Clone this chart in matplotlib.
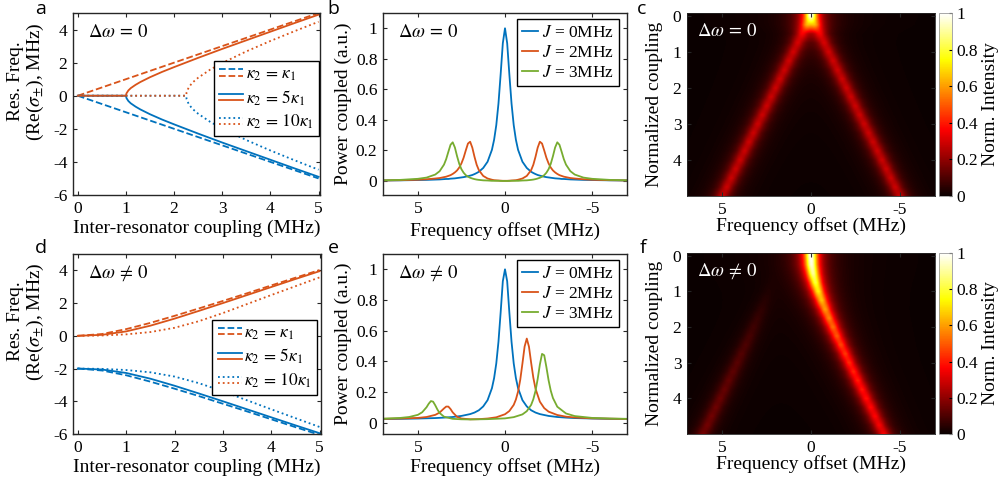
import numpy as np
import matplotlib
matplotlib.use("Agg")
import matplotlib.pyplot as plt
from matplotlib.legend_handler import HandlerBase
from matplotlib.lines import Line2D

plt.rcParams["font.family"] = ["Liberation Serif", "DejaVu Serif"]
plt.rcParams["mathtext.fontset"] = "stix"
plt.rcParams["axes.unicode_minus"] = False

BLUE = "#0072BD"
ORANGE = "#D95319"
GREEN = "#77AC30"
AXCOL = "#262626"
TICK_FS = 12.5
LABEL_FS = 14

# ---------------- panel a : resonance frequency, no detuning ----------------
coupling_dash_a = [0, 5]
upper_dash_a = [0, 5.0]
lower_dash_a = [0, -5.0]
coupling_solid_a = [0, 1, 1.01, 1.05, 1.1, 1.2, 1.3, 1.5, 1.75, 2, 2.5, 3, 3.5, 4, 4.5, 5]
upper_solid_a = [0, 0, 0.14, 0.32, 0.46, 0.66, 0.83, 1.12, 1.44, 1.73, 2.29, 2.83, 3.35, 3.87, 4.39, 4.90]
lower_solid_a = [0, 0, -0.14, -0.32, -0.46, -0.66, -0.83, -1.12, -1.44, -1.73, -2.29, -2.83, -3.35, -3.87, -4.39, -4.90]
coupling_dot_a = [0, 2.25, 2.26, 2.3, 2.35, 2.4, 2.5, 2.75, 3, 3.5, 4, 4.5, 5]
upper_dot_a = [0, 0, 0.21, 0.48, 0.68, 0.84, 1.09, 1.58, 1.98, 2.68, 3.31, 3.90, 4.47]
lower_dot_a = [0, 0, -0.21, -0.48, -0.68, -0.84, -1.09, -1.58, -1.98, -2.68, -3.31, -3.90, -4.47]

# ---------------- panel d : resonance frequency, with detuning ----------------
coupling_d = [0, 0.5, 1, 1.5, 2, 2.5, 3, 3.5, 4, 4.5, 5]
upper_dash_d = [0, 0.11, 0.41, 0.79, 1.22, 1.67, 2.13, 2.60, 3.08, 3.55, 4.02]
lower_dash_d = [-2, -2.12, -2.41, -2.80, -3.23, -3.68, -4.15, -4.62, -5.10, -5.58, -6.05]
upper_solid_d = [0, 0.06, 0.27, 0.62, 1.05, 1.52, 2.00, 2.49, 2.98, 3.47, 3.95]
lower_solid_d = [-2, -2.06, -2.27, -2.62, -3.05, -3.52, -4.00, -4.49, -4.98, -5.47, -5.95]
upper_dot_d = [0, 0.02, 0.09, 0.23, 0.49, 0.89, 1.39, 1.94, 2.49, 3.03, 3.57]
lower_dot_d = [-2, -2.02, -2.09, -2.23, -2.49, -2.89, -3.39, -3.94, -4.49, -5.03, -5.57]

kappa_labels = [r"$\kappa_2\,=\,\kappa_1$", r"$\kappa_2\,=\,5\kappa_1$", r"$\kappa_2\,=\,10\kappa_1$"]

# ---------------- panel b : spectra, no detuning (symmetric, half given) ----------------
offset_b_half = [0, 0.125, 0.25, 0.375, 0.5, 0.625, 0.75, 1, 1.25, 1.5, 1.625, 1.75, 1.875, 2,
                 2.125, 2.25, 2.375, 2.5, 2.625, 2.75, 2.875, 3, 3.125, 3.25, 3.375, 3.5, 3.75,
                 4, 4.5, 5, 6, 7]
power_j0_b = [1.0, .902, .698, .507, .366, .270, .204, .126, .085, .060, .052, .045, .039, .035,
              .031, .028, .025, .023, .021, .019, .017, .016, .015, .013, .013, .012, .010,
              .009, .007, .006, .004, .003]
power_j2_b = [.001, .001, .002, .003, .004, .005, .008, .016, .033, .071, .106, .158, .218, .257,
              .245, .200, .152, .115, .088, .069, .056, .046, .038, .033, .028, .025, .019,
              .016, .011, .008, .005, .003]
power_j3_b = [0, 0, 0, .001, .001, .001, .001, .003, .004, .007, .009, .012, .016, .021,
              .028, .038, .054, .077, .112, .162, .219, .253, .237, .191, .143, .107, .064,
              .042, .022, .014, .007, .004]

# ---------------- panel e : spectra, with detuning ----------------
offset_j0_e = [7, 6, 5, 4, 3.5, 3, 2.5, 2, 1.75, 1.5, 1.25, 1, 0.75, 0.625, 0.5, 0.375, 0.25, 0.125,
               0, -0.125, -0.25, -0.375, -0.5, -0.625, -0.75, -1, -1.25, -1.5, -1.75, -2, -2.5,
               -3, -3.5, -4, -5, -6, -7]
power_j0_e = [.023, .024, .026, .029, .032, .036, .043, .055, .065, .080, .105, .146, .224, .290,
              .386, .527, .718, .922, 1.0, .922, .718, .527, .386, .290, .224, .146, .105, .080,
              .065, .055, .043, .036, .032, .029, .026, .024, .023]
offset_j2_e = [7, 6, 5, 4.5, 4, 3.75, 3.5, 3.375, 3.25, 3.125, 3, 2.75, 2.5, 2, 1.5, 1, 0.5, 0,
               -0.25, -0.5, -0.625, -0.75, -0.875, -1, -1.125, -1.25, -1.375, -1.5, -1.625,
               -1.75, -2, -2.25, -2.5, -3, -3.5, -4, -5, -6, -7]
power_j2_e = [.024, .026, .030, .036, .050, .065, .092, .104, .104, .088, .066, .037, .026, .021,
              .022, .026, .034, .054, .075, .115, .150, .202, .279, .385, .496, .548, .495, .390,
              .293, .221, .136, .094, .071, .049, .038, .033, .027, .025, .023]
offset_j3_e = [7, 6, 5.5, 5, 4.75, 4.5, 4.375, 4.25, 4.125, 4, 3.875, 3.75, 3.5, 3, 2.5, 2, 1, 0,
               -0.5, -1, -1.25, -1.5, -1.625, -1.75, -1.875, -2, -2.125, -2.25, -2.375, -2.5,
               -2.625, -2.75, -3, -3.5, -4, -5, -6, -7]
power_j3_e = [.025, .030, .036, .050, .067, .100, .123, .140, .136, .112, .084, .062, .038, .024,
              .021, .020, .022, .027, .035, .053, .074, .115, .152, .206, .284, .378, .448, .439,
              .362, .276, .208, .160, .103, .059, .042, .030, .026, .024]

j_labels = [r"$J$ = 0MHz", r"$J$ = 2MHz", r"$J$ = 3MHz"]

# ---------------- panels c, f : maps, ridge read-outs per coupling row ----------------
coupling_rows = [0, 0.25, 0.5, 0.75, 1, 1.25, 1.5, 1.75, 2, 2.25, 2.5, 2.75, 3, 3.25, 3.5,
                 3.75, 4, 4.25, 4.5, 4.75, 5]
ridge_height_c = [0.50, 0.46, 0.32, 0.29, 0.29, 0.29, 0.29, 0.29, 0.29, 0.29, 0.29, 0.29, 0.29,
                  0.29, 0.29, 0.29, 0.29, 0.29, 0.29, 0.29, 0.29]
bright_pos_f = [0, -0.03, -0.12, -0.25, -0.41, -0.60, -0.80, -1.02, -1.24, -1.46, -1.69, -1.93,
                -2.16, -2.40, -2.64, -2.88, -3.12, -3.37, -3.61, -3.85, -4.10]
bright_height_f = [1.0, 0.97, 0.90, 0.81, 0.73, 0.66, 0.60, 0.56, 0.53, 0.50, 0.47, 0.45, 0.43,
                   0.42, 0.41, 0.40, 0.39, 0.38, 0.37, 0.36, 0.36]
dim_pos_f = [2.0, 2.03, 2.12, 2.25, 2.41, 2.60, 2.80, 3.02, 3.24, 3.46, 3.69, 3.93, 4.16, 4.40,
             4.64, 4.88, 5.12, 5.37, 5.61, 5.85, 6.10]
dim_height_f = [0, 0.001, 0.003, 0.01, 0.02, 0.035, 0.05, 0.063, 0.076, 0.088, 0.099, 0.108,
                0.117, 0.124, 0.131, 0.138, 0.144, 0.149, 0.154, 0.158, 0.162]
line_hwhm = 0.38


class StackedLines(HandlerBase):
    """legend key: the blue and the orange line of one style, one above the other"""
    def create_artists(self, legend, orig_handle, xdescent, ydescent, width, height, fontsize, trans):
        arts = []
        for line, frac in zip(orig_handle, (0.75, 0.25)):
            y = frac * height - ydescent
            ln = Line2D([-xdescent, width - xdescent], [y, y], color=line.get_color(),
                        linestyle=line.get_linestyle(), linewidth=line.get_linewidth())
            ln.set_transform(trans)
            arts.append(ln)
        return arts


W, H = 1004, 483
fig = plt.figure(figsize=(W / 100, H / 100), dpi=100)


def px_axes(left, top, width, height):
    return fig.add_axes([left / W, 1 - (top + height) / H, width / W, height / H])


def style(ax):
    for s in ax.spines.values():
        s.set_color(AXCOL)
        s.set_linewidth(1.0)
    ax.tick_params(direction="in", length=3, top=True, right=True, labelsize=TICK_FS,
                   color=AXCOL, pad=4)


def freq_panel(ax, upper, lower, xs, text):
    style(ax)
    lw = 1.3
    hd = []
    for (xv, up, lo, ls) in zip(xs, upper, lower, ["--", "-", ":"]):
        b, = ax.plot(xv, lo, color=BLUE, ls=ls, lw=lw)
        o, = ax.plot(xv, up, color=ORANGE, ls=ls, lw=lw)
        hd.append((b, o))
    ax.set_xlim(-0.1, 5.03)
    ax.set_ylim(-6, 5)
    ax.set_yticks([-6, -4, -2, 0, 2, 4])
    ax.set_xticks([0, 1, 2, 3, 4, 5])
    ax.set_xlabel("Inter-resonator coupling (MHz)", fontsize=LABEL_FS)
    ax.xaxis.set_label_coords(0.5, -0.135)
    ax.set_ylabel("Res. Freq.\n(Re($\\sigma_{\\pm}$), MHz)", fontsize=LABEL_FS, linespacing=1.05)
    ax.yaxis.set_label_coords(-0.11, 0.625)
    ax.text(0.06, 0.895, text, transform=ax.transAxes, fontsize=13.5, va="center")
    ax.legend(hd, kappa_labels, handler_map={tuple: StackedLines()}, loc="upper right",
              fontsize=12.5, frameon=True, fancybox=False, edgecolor="k", framealpha=1,
              handlelength=1.4, handletextpad=0.15, labelspacing=0.3, borderpad=0.3,
              borderaxespad=0)
    return ax.get_legend()


# ---- a
ax_a = px_axes(73, 13, 247, 182)
leg = freq_panel(ax_a,
                 [upper_dash_a, upper_solid_a, upper_dot_a],
                 [lower_dash_a, lower_solid_a, lower_dot_a],
                 [coupling_dash_a, coupling_solid_a, coupling_dot_a], r"$\Delta\omega\,=\,0$")
leg.set_bbox_to_anchor((0.995, 0.735), transform=ax_a.transAxes)

# ---- d
ax_d = px_axes(73, 254, 248, 180)
leg = freq_panel(ax_d,
                 [upper_dash_d, upper_solid_d, upper_dot_d],
                 [lower_dash_d, lower_solid_d, lower_dot_d],
                 [coupling_d, coupling_d, coupling_d], r"$\Delta\omega\,\neq\,0$")
leg.set_bbox_to_anchor((0.985, 0.633), transform=ax_d.transAxes)


def spec_panel(ax, curves, ylim, text, xlab_y):
    style(ax)
    for (xv, yv), c, lab in zip(curves, [BLUE, ORANGE, GREEN], j_labels):
        ax.plot(xv, yv, color=c, lw=1.3, label=lab)
    ax.set_xlim(7, -7)
    ax.set_ylim(*ylim)
    ax.set_xticks([5, 0, -5])
    ax.set_yticks([0, 0.2, 0.4, 0.6, 0.8, 1])
    ax.set_yticklabels(["0", "0.2", "0.4", "0.6", "0.8", "1"])
    ax.set_xlabel("Frequency offset (MHz)", fontsize=LABEL_FS)
    ax.xaxis.set_label_coords(0.5, xlab_y)
    ax.set_ylabel("Power coupled (a.u.)", fontsize=LABEL_FS)
    ax.yaxis.set_label_coords(-0.125, 0.5)
    ax.text(0.06, 0.895, text, transform=ax.transAxes, fontsize=13.5, va="center")
    ax.legend(loc="upper right", bbox_to_anchor=(0.967, 0.965), fontsize=12.5, frameon=True,
              fancybox=False, edgecolor="k", framealpha=1, handlelength=0.9,
              handletextpad=0.2, labelspacing=0.22, borderpad=0.3, borderaxespad=0)


# ---- b
half = np.array(offset_b_half)
full_x = np.concatenate([-half[:0:-1], half])


def mirror(v):
    v = np.array(v)
    return np.concatenate([v[:0:-1], v])


ax_b = px_axes(383, 13, 244, 182)
spec_panel(ax_b, [(full_x, mirror(power_j0_b)), (full_x, mirror(power_j2_b)),
                  (full_x, mirror(power_j3_b))], (-0.092, 1.1), r"$\Delta\omega\,=\,0$", -0.15)

# ---- e
ax_e = px_axes(383, 254, 244, 180)
spec_panel(ax_e, [(offset_j0_e, power_j0_e), (offset_j2_e, power_j2_e),
                  (offset_j3_e, power_j3_e)], (-0.075, 1.1), r"$\Delta\omega\,\neq\,0$", -0.135)

# ---- maps
freq_grid = np.linspace(-7, 7, 281)


def ridge(center, height):
    return height / (1 + ((freq_grid - center) / line_hwhm) ** 2)


map_c = np.array([ridge(j, h) + ridge(-j, h) for j, h in zip(coupling_rows, ridge_height_c)])
map_f = np.array([ridge(bp, bh) + ridge(dp, dh) for bp, bh, dp, dh in
                  zip(bright_pos_f, bright_height_f, dim_pos_f, dim_height_f)])


def map_panel(ax, cax, img, text, xlab_y):
    step = coupling_rows[1] - coupling_rows[0]
    df = freq_grid[1] - freq_grid[0]
    im = ax.imshow(img, cmap="hot", vmin=0, vmax=1, aspect="auto", interpolation="bilinear",
                   interpolation_stage="data",
                   extent=[freq_grid[0] - df / 2, freq_grid[-1] + df / 2,
                           coupling_rows[-1] + step / 2, coupling_rows[0] - step / 2])
    ax.set_xlim(7, -7)
    ax.set_ylim(5.0, -0.08)
    ax.set_xticks([5, 0, -5])
    ax.set_yticks([0, 1, 2, 3, 4])
    for s in ax.spines.values():
        s.set_linewidth(0.6)
        s.set_color(AXCOL)
    ax.tick_params(direction="in", length=3, labelsize=TICK_FS, color=AXCOL, pad=4,
                   top=True, right=True)
    ax.set_xlabel("Frequency offset (MHz)", fontsize=LABEL_FS)
    ax.xaxis.set_label_coords(0.5, xlab_y)
    ax.set_ylabel("Normalized coupling", fontsize=LABEL_FS)
    ax.yaxis.set_label_coords(-0.097, 0.5)
    ax.text(0.04, 0.9, text, transform=ax.transAxes, fontsize=13.5, va="center", color="white")
    cb = fig.colorbar(im, cax=cax, ticks=[0, 0.2, 0.4, 0.6, 0.8, 1])
    cb.ax.set_yticklabels(["0", "0.2", "0.4", "0.6", "0.8", "1"])
    cb.ax.tick_params(labelsize=TICK_FS, length=2, pad=3, direction="in")
    cb.outline.set_edgecolor("#999999")
    cb.outline.set_linewidth(0.6)
    cb.set_label("Norm. Intensity", fontsize=LABEL_FS, labelpad=3)


ax_c = px_axes(687, 13, 248, 183)
cax_c = px_axes(939, 13, 13, 183)
map_panel(ax_c, cax_c, map_c, r"$\Delta\omega\,=\,0$", -0.115)

ax_f = px_axes(687, 253, 248, 181)
cax_f = px_axes(939, 253, 13, 181)
map_panel(ax_f, cax_f, map_f, r"$\Delta\omega\,\neq\,0$", -0.115)

# panel letters
for letter, (x, y) in zip("abcdef", [(41, 9), (333, 9), (642, 9), (41, 248), (333, 248), (643, 248)]):
    fig.text(x / W, 1 - y / H, letter, fontsize=14, family="Open Sans", ha="center", va="center")

fig.savefig("out.png", dpi=100)
